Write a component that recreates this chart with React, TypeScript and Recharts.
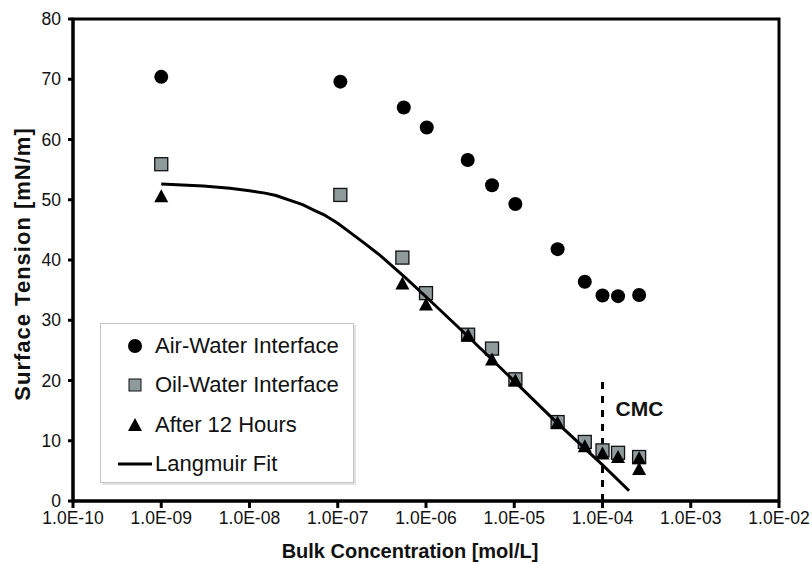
import React from 'react'
import {
  ScatterChart, Scatter, XAxis, YAxis, Label, Legend,
  ReferenceArea, ReferenceLine, ReferenceDot,
} from 'recharts'

const FONT = '"Liberation Sans", Arial, Helvetica, sans-serif'

// bulk concentration [mol/L] and surface tension [mN/m]
const airConc = [1e-9, 1.07e-7, 5.6e-7, 1.02e-6, 2.97e-6, 5.6e-6, 1.03e-5, 3.1e-5, 6.3e-5, 1.0e-4, 1.5e-4, 2.6e-4]
const airTension = [70.4, 69.6, 65.3, 62.0, 56.6, 52.4, 49.3, 41.8, 36.4, 34.1, 34.0, 34.2]

const oilConc = [1e-9, 1.07e-7, 5.4e-7, 1.0e-6, 3.0e-6, 5.6e-6, 1.03e-5, 3.1e-5, 6.3e-5, 1.0e-4, 1.5e-4, 2.6e-4]
const oilTension = [55.9, 50.8, 40.4, 34.5, 27.6, 25.3, 20.2, 13.1, 9.8, 8.4, 8.0, 7.3]

const agedConc = [1e-9, 5.4e-7, 1.0e-6, 3.0e-6, 5.6e-6, 1.03e-5, 3.1e-5, 6.3e-5, 1.0e-4, 1.5e-4, 2.6e-4, 2.6e-4]
const agedTension = [50.6, 36.1, 32.6, 27.5, 23.5, 20.0, 13.0, 9.1, 7.9, 7.3, 7.1, 5.3]

const fitConc = [1e-9, 3e-9, 6e-9, 1e-8, 1.5e-8, 2e-8, 3e-8, 4e-8, 5.5e-8, 7e-8, 1e-7, 1.4e-7, 2e-7, 3e-7, 4e-7, 6e-7, 1e-6, 3e-6, 1e-5, 3e-5, 1e-4, 2e-4]
const fitTension = [52.6, 52.3, 51.9, 51.5, 51.1, 50.7, 49.8, 49.2, 48.2, 47.5, 46.1, 44.5, 42.8, 40.8, 39.2, 36.9, 33.9, 27.3, 19.9, 13.1, 6.0, 1.7]

const xTicks = [1e-10, 1e-9, 1e-8, 1e-7, 1e-6, 1e-5, 1e-4, 1e-3, 1e-2]
const yTicks = [0, 10, 20, 30, 40, 50, 60, 70, 80]

const legendItems = ['Air-Water Interface', 'Oil-Water Interface', 'After 12 Hours', 'Langmuir Fit']

const zip = (cs: number[], ts: number[]) => cs.map((c, i) => ({ c, t: ts[i] }))
const airData = zip(airConc, airTension)
const oilData = zip(oilConc, oilTension)
const agedData = zip(agedConc, agedTension)
const fitData = zip(fitConc, fitTension)

const fmt = (v: number) => {
  const e = Math.round(Math.log10(v))
  return `1.0E${e < 0 ? '-' : '+'}${String(Math.abs(e)).padStart(2, '0')}`
}

const SQ_FILL = '#8f9b9b'

const Circle = (p: any) => <circle cx={p.cx} cy={p.cy} r={7} fill="#000" />
const Square = (p: any) => (
  <rect x={p.cx - 6.5} y={p.cy - 6.5} width={13} height={13} fill={SQ_FILL} stroke="#111" strokeWidth={1.3} />
)
const Tri = (p: any) => (
  <polygon points={`${p.cx},${p.cy - 7} ${p.cx + 7},${p.cy + 6} ${p.cx - 7},${p.cy + 6}`} fill="#000" />
)

// rotated y title, centred on the left strip beside the plot
const YTitle = (p: any) => {
  const vb = p.viewBox || {}
  const cx = 22
  const cy = (vb.y ?? 19) + (vb.height ?? 482) / 2 + 4
  return (
    <text x={cx} y={cy} transform={`rotate(-90 ${cx} ${cy})`} textAnchor="middle" dominantBaseline="central"
      style={{ fontFamily: FONT, fontSize: 22, fontWeight: 'bold', fill: '#111', letterSpacing: 1 }}>
      Surface Tension [mN/m]
    </text>
  )
}

function LegendIcon({ i }: { i: number }) {
  return (
    <svg width={54} height={20} style={{ flex: 'none' }}>
      {i === 0 ? <circle cx={34} cy={10} r={7} fill="#000" /> : null}
      {i === 1 ? <rect x={28} y={4} width={12} height={12} fill={SQ_FILL} stroke="#111" strokeWidth={1} /> : null}
      {i === 2 ? <polygon points="34,3 41,16 27,16" fill="#000" /> : null}
      {i === 3 ? <line x1={17} y1={10} x2={51} y2={10} stroke="#000" strokeWidth={3} /> : null}
    </svg>
  )
}

function LegendBox() {
  return (
    <div style={{
      width: 254, height: 160, boxSizing: 'border-box', background: '#fff',
      border: '1px solid #c4c4c4', boxShadow: '2px 2px 0 #e2e2e2', paddingTop: 2,
    }}>
      {legendItems.map((name, i) => (
        <div key={name} style={{ display: 'flex', alignItems: 'center', height: 39.5 }}>
          <LegendIcon i={i} />
          <span style={{ fontFamily: FONT, fontSize: 22, color: '#111', whiteSpace: 'nowrap' }}>{name}</span>
        </div>
      ))}
    </div>
  )
}

export default function App() {
  const tick = { fill: '#111', fontSize: 17.5, fontFamily: FONT }
  const axisStroke = { stroke: '#000', strokeWidth: 3 }
  return (
    <div style={{ position: 'absolute', left: 0, top: 0, width: 812, height: 564, background: '#fff' }}>
      <ScatterChart width={812} height={564} margin={{ top: 19, right: 33, bottom: 0, left: 0 }}>
        <XAxis
          type="number" dataKey="c" scale="log" domain={[1e-10, 1e-2]} ticks={xTicks} interval={0}
          allowDataOverflow tickFormatter={fmt} height={63}
          axisLine={axisStroke} tickLine={axisStroke} tickSize={7} tickMargin={4} tick={tick}
        >
          <Label value="Bulk Concentration [mol/L]" position="insideBottom" offset={6} dx={-16}
            style={{ fontFamily: FONT, fontSize: 20, fontWeight: 'bold', fill: '#111' }} />
        </XAxis>
        <YAxis
          type="number" dataKey="t" domain={[0, 80]} ticks={yTicks} interval={0} width={73}
          axisLine={axisStroke} tickLine={axisStroke} tickSize={5} tickMargin={7} tick={tick}
        >
          <Label content={YTitle} />
        </YAxis>
        <ReferenceArea x1={1e-10} x2={1e-2} y1={0} y2={80} fill="none" stroke="#000" strokeWidth={3} />
        <ReferenceLine segment={[{ x: 1e-4, y: 0 }, { x: 1e-4, y: 20 }]} stroke="#000" strokeWidth={3} strokeDasharray="7 7" />
        <ReferenceDot x={1e-4} y={15.4} r={0} fill="none" stroke="none"
          label={{ value: 'CMC', position: 'right', offset: 13, fontSize: 21, fontWeight: 'bold', fill: '#111', fontFamily: FONT }} />
        <Scatter name={legendItems[0]} data={airData} shape={Circle} isAnimationActive={false} />
        <Scatter name={legendItems[1]} data={oilData} shape={Square} isAnimationActive={false} />
        <Scatter name={legendItems[3]} data={fitData} shape={() => <g />} line={{ stroke: '#000', strokeWidth: 3 }}
          lineType="joint" isAnimationActive={false} />
        <Scatter name={legendItems[2]} data={agedData} shape={Tri} isAnimationActive={false} />
        <Legend layout="vertical" align="center" verticalAlign="middle" content={() => <LegendBox />}
          wrapperStyle={{ left: 100, top: 323, width: 254, height: 160 }} />
      </ScatterChart>
    </div>
  )
}
